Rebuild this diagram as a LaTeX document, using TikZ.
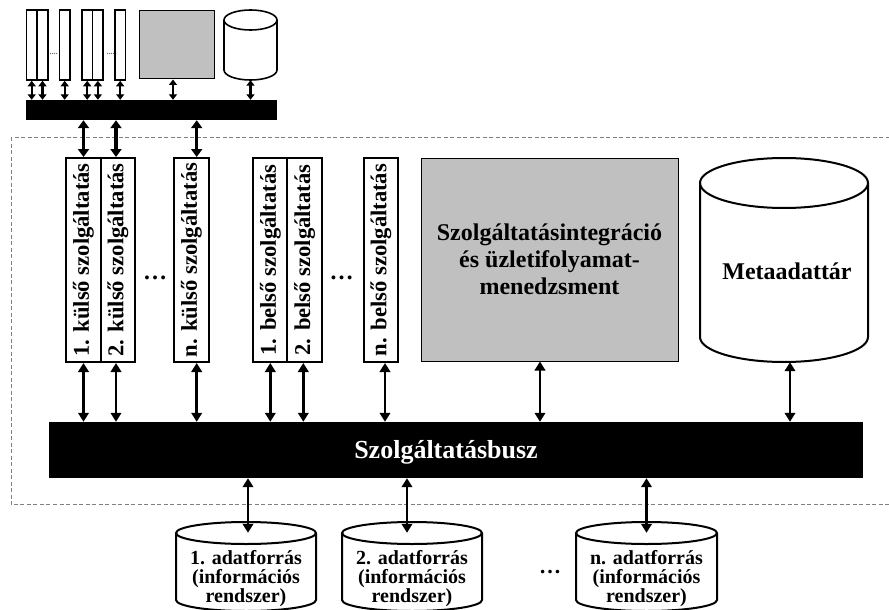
\documentclass[tikz,border=0pt]{standalone}
\usepackage{fontspec}
\setmainfont{Liberation Serif}
\usepackage{graphicx}
\usetikzlibrary{arrows.meta,calc}
\definecolor{grayfill}{RGB}{192,192,192}
\definecolor{dashgray}{RGB}{128,128,128}
\tikzset{
  svc/.style={draw, line width=2pt, fill=white, inner sep=0pt, minimum width=34.5pt, minimum height=204pt, font=\fontsize{22.6}{22.6}\selectfont\bfseries},
  sbox/.style={draw, line width=1.6pt, fill=white, minimum width=10.5pt, minimum height=70pt, inner sep=0pt},
  arr/.style={line width=2.5pt, {Triangle[length=9pt,width=10.5pt]}-{Triangle[length=9pt,width=10.5pt]}},
  barr/.style={line width=3.2pt, {Triangle[length=8pt,width=11pt]}-{Triangle[length=8pt,width=11pt]}},
  sarr/.style={line width=2.2pt, {Triangle[length=5.5pt,width=8pt]}-{Triangle[length=5.5pt,width=8pt]}},
  lbl/.style={inner sep=0pt, align=center},
  hidden/.style={inner sep=0pt, draw=none},
  dashrect/.style={draw=dashgray, line width=1pt, dash pattern=on 4pt off 2.5pt},
  tinydots/.style={inner sep=0pt, font=\fontsize{8}{8}\selectfont\bfseries, text=black!60},
}
\newcommand{\drawcyl}[6]{%
  \pgfmathsetmacro{\cylrx}{(#2-#1)/2}%
  \draw[line width=#6, fill=white] (#1,{-(#3+#5)}) -- (#1,{-(#4-#5)})
    arc[start angle=180,end angle=360,x radius=\cylrx,y radius=#5]
    -- (#2,{-(#3+#5)})
    arc[start angle=0,end angle=180,x radius=\cylrx,y radius=#5] -- cycle;
  \draw[line width=#6] (#1,{-(#3+#5)}) arc[start angle=180,end angle=360,x radius=\cylrx,y radius=#5];
}
\begin{document}
\begin{tikzpicture}[x=1pt,y=1pt]
\useasboundingbox (0,0) rectangle (889,-610);

% dashed frame
\draw[dashrect] (11,-137) rectangle (892,-504.5);

% ---- small overview at top ----
\node[sbox] (s1) at (31.7,-45) {};
\node[sbox] (s2) at (42.5,-45) {};
\node[sbox] (s3) at (64.7,-45) {};
\node[sbox] (s4) at (87.2,-45) {};
\node[sbox] (s5) at (97.9,-45) {};
\node[sbox] (s6) at (120.2,-45) {};
\node[tinydots] (sd1) at (53.5,-54) {....};
\node[tinydots] (sd2) at (110.5,-54) {....};
\node[draw, line width=1pt, fill=grayfill, inner sep=0pt, minimum width=75pt, minimum height=68pt] (sg) at (176.5,-45) {};
\drawcyl{224}{277}{10}{80}{10}{1.6pt}
\node[hidden, minimum width=53pt, minimum height=70pt] (sc) at (250.5,-45) {};
\node[fill=black, inner sep=0pt, minimum width=251pt, minimum height=20pt] (sbar) at (151.5,-110) {};

\foreach \s in {s1,s2,s3,s4,s5,s6,sc}
  \draw[sarr] (\s.south) -- (\s.south |- sbar.north);
\coordinate (sga) at ([xshift=-3.5pt]sg.south);
\draw[sarr] (sga) -- (sga |- sbar.north);

% ---- services ----
\node[svc] (e1) at (83.5,-260) {\rotatebox{90}{1. külső szolgáltatás}};
\node[svc] (e2) at (118,-260) {\rotatebox{90}{2. külső szolgáltatás}};
\node[svc] (en) at (191.3,-260) {\rotatebox{90}{n. külső szolgáltatás}};
\node[svc] (b1) at (270.3,-260) {\rotatebox{90}{1. belső szolgáltatás}};
\node[svc] (b2) at (304.7,-260) {\rotatebox{90}{2. belső szolgáltatás}};
\node[svc] (bn) at (380.8,-260) {\rotatebox{90}{n. belső szolgáltatás}};
\node[lbl, font=\fontsize{24}{24}\selectfont\bfseries] (dd1) at (155,-278) {…};
\node[lbl, font=\fontsize{24}{24}\selectfont\bfseries] (dd2) at (341.5,-278) {…};

\node[draw, line width=1pt, fill=grayfill, inner sep=0pt, minimum width=257pt, minimum height=203pt,
      align=center, font=\fontsize{24}{27}\selectfont\bfseries] (sint) at (549.5,-259.5)
      {Szolgáltatásintegráció\\és üzletifolyamat-\\menedzsment};

\drawcyl{700}{868}{158}{362}{25}{2pt}
\node[hidden, minimum width=168pt, minimum height=204pt] (meta) at (784,-260) {};
\node[lbl, font=\fontsize{24}{24}\selectfont\bfseries] (metatxt) at (787,-271) {Metaadattár};

% ---- bus ----
\node[fill=black, inner sep=0pt, minimum width=814pt, minimum height=56pt] (bus) at (456,-450) {};
\node[lbl, text=white, font=\fontsize{26}{26}\selectfont\bfseries] (bustxt) at (446,-452) {Szolgáltatásbusz};

% arrows from top bar to external services
\coordinate (t1) at (e1.north);
\coordinate (t2) at ([xshift=-2pt]e2.north);
\coordinate (t3) at ([xshift=5.4pt]en.north);
\foreach \t in {t1,t2,t3}
  \draw[barr] (\t |- sbar.south) -- (\t);

% arrows from components to bus
\coordinate (a1) at (e1.south);
\coordinate (a2) at ([xshift=-2pt]e2.south);
\coordinate (a3) at ([xshift=5.4pt]en.south);
\coordinate (a4) at (b1.south);
\coordinate (a5) at ([xshift=-1.4pt]b2.south);
\coordinate (a6) at ([xshift=4.2pt]bn.south);
\coordinate (a7) at ([xshift=-9.5pt]sint.south);
\coordinate (a8) at ([xshift=6pt]meta.south);
\foreach \a in {a1,a2,a3,a4,a5,a6,a7,a8}
  \draw[arr] (\a) -- (\a |- bus.north);

% ---- data sources ----
\drawcyl{176}{316}{522}{611}{11}{2pt}
\drawcyl{342}{482}{522}{611}{11}{2pt}
\drawcyl{576}{717}{522}{611}{11}{2pt}
\node[hidden, minimum width=140pt, minimum height=89pt] (c1) at (246,-566.5) {};
\node[hidden, minimum width=140pt, minimum height=89pt] (c2) at (412,-566.5) {};
\node[hidden, minimum width=141pt, minimum height=89pt] (c3) at (646.5,-566.5) {};
\node[lbl, font=\fontsize{20}{19}\selectfont\bfseries] (c1t) at (246,-579) {1. adatforrás\\(információs\\rendszer)};
\node[lbl, font=\fontsize{20}{19}\selectfont\bfseries] (c2t) at (412,-579) {2. adatforrás\\(információs\\rendszer)};
\node[lbl, font=\fontsize{20}{19}\selectfont\bfseries] (c3t) at (646.5,-579) {n. adatforrás\\(információs\\rendszer)};
\node[lbl, font=\fontsize{22}{22}\selectfont\bfseries] (dd3) at (550,-572) {…};

\coordinate (u1) at ([xshift=2pt,yshift=-11pt]c1.north);
\coordinate (u2) at ([xshift=-5pt,yshift=-11pt]c2.north);
\coordinate (u3) at ([yshift=-11pt]c3.north);
\foreach \u in {u1,u2,u3}
  \draw[arr] (\u |- bus.south) -- (\u);
\end{tikzpicture}
\end{document}
